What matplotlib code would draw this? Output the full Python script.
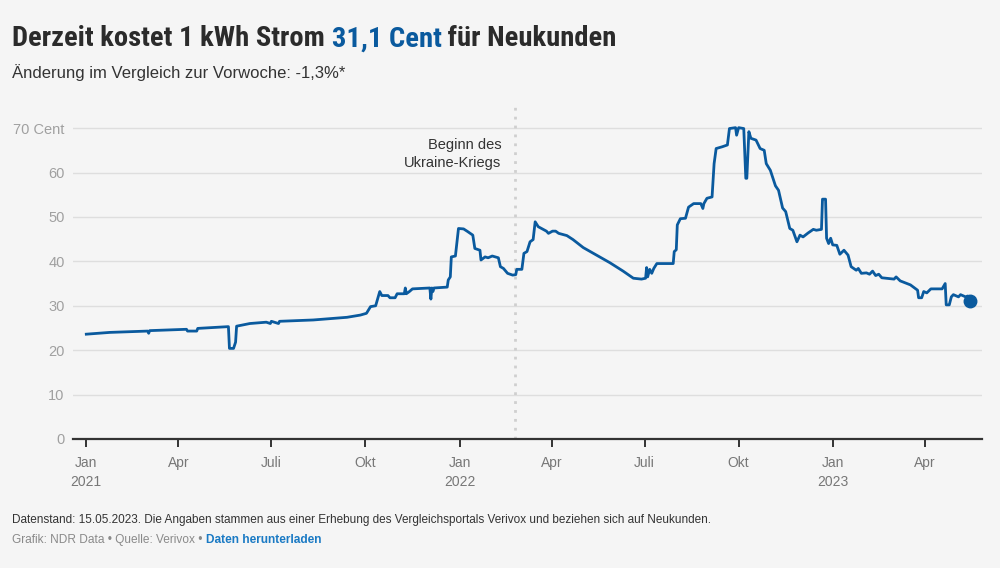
import matplotlib
matplotlib.use("Agg")
import matplotlib.pyplot as plt
from matplotlib import font_manager
import pandas as pd

# Strompreis Neukunden in Cent/kWh
dates = [
    "2021-01-01", "2021-01-24", "2021-03-02", "2021-03-03", "2021-03-04",
    "2021-04-09", "2021-04-10", "2021-04-19", "2021-04-20", "2021-05-20",
    "2021-05-21", "2021-05-25", "2021-05-27", "2021-05-28", "2021-06-10",
    "2021-06-26", "2021-06-30", "2021-07-01", "2021-07-08", "2021-07-09",
    "2021-08-11", "2021-09-13", "2021-09-26", "2021-10-02", "2021-10-06",
    "2021-10-11", "2021-10-15", "2021-10-17", "2021-10-23", "2021-10-25",
    "2021-10-30", "2021-11-01", "2021-11-08", "2021-11-09", "2021-11-10",
    "2021-11-13", "2021-11-16", "2021-12-03", "2021-12-04", "2021-12-05",
    "2021-12-06", "2021-12-07", "2021-12-20", "2021-12-21", "2021-12-23",
    "2021-12-24", "2021-12-28", "2021-12-31", "2022-01-05", "2022-01-09",
    "2022-01-14", "2022-01-16", "2022-01-21", "2022-01-22", "2022-01-26",
    "2022-01-29", "2022-02-02", "2022-02-08", "2022-02-10", "2022-02-13",
    "2022-02-17", "2022-02-22", "2022-02-25", "2022-02-26", "2022-03-03",
    "2022-03-05", "2022-03-08", "2022-03-11", "2022-03-14", "2022-03-16",
    "2022-03-19", "2022-03-23", "2022-03-27", "2022-03-29", "2022-04-02",
    "2022-04-05", "2022-04-08", "2022-04-16", "2022-04-22", "2022-05-02",
    "2022-05-15", "2022-05-28", "2022-06-10", "2022-06-20", "2022-06-28",
    "2022-07-02", "2022-07-03", "2022-07-04", "2022-07-06", "2022-07-08",
    "2022-07-10", "2022-07-13", "2022-07-29", "2022-07-30", "2022-08-01",
    "2022-08-02", "2022-08-05", "2022-08-10", "2022-08-13", "2022-08-18",
    "2022-08-25", "2022-08-27", "2022-08-28", "2022-08-31", "2022-09-05",
    "2022-09-07", "2022-09-09", "2022-09-15", "2022-09-20", "2022-09-22",
    "2022-09-28", "2022-09-29", "2022-10-01", "2022-10-06", "2022-10-08",
    "2022-10-09", "2022-10-11", "2022-10-13", "2022-10-18", "2022-10-22",
    "2022-10-26", "2022-10-28", "2022-11-01", "2022-11-06", "2022-11-09",
    "2022-11-13", "2022-11-16", "2022-11-20", "2022-11-23", "2022-11-27",
    "2022-11-30", "2022-12-03", "2022-12-08", "2022-12-13", "2022-12-16",
    "2022-12-21", "2022-12-22", "2022-12-25", "2022-12-26", "2022-12-28",
    "2022-12-30", "2023-01-01", "2023-01-05", "2023-01-08", "2023-01-12",
    "2023-01-16", "2023-01-19", "2023-01-24", "2023-01-26", "2023-01-29",
    "2023-02-03", "2023-02-06", "2023-02-09", "2023-02-12", "2023-02-15",
    "2023-02-18", "2023-03-02", "2023-03-04", "2023-03-08", "2023-03-18",
    "2023-03-25", "2023-03-26", "2023-03-29", "2023-03-31", "2023-04-03",
    "2023-04-07", "2023-04-18", "2023-04-21", "2023-04-22", "2023-04-25",
    "2023-04-27", "2023-04-29", "2023-05-04", "2023-05-06", "2023-05-11",
    "2023-05-13", "2023-05-15",
]
cent = [
    23.6, 24.0, 24.3, 23.8, 24.4,
    24.7, 24.3, 24.3, 24.9, 25.3,
    20.4, 20.4, 21.8, 25.4, 26.0,
    26.3, 26.0, 26.5, 26.0, 26.5,
    26.8, 27.4, 27.9, 28.3, 29.8,
    30.0, 33.2, 32.3, 32.3, 31.8,
    31.8, 32.7, 32.7, 34.0, 32.7,
    33.2, 33.8, 34.0, 31.5, 34.0,
    33.2, 34.0, 34.2, 35.8, 36.5,
    41.0, 41.2, 47.4, 47.3, 46.7,
    45.9, 42.9, 42.5, 40.3, 41.0,
    40.8, 41.2, 40.8, 38.8, 38.4,
    37.3, 36.9, 37.0, 38.2, 38.2,
    41.8, 42.2, 44.4, 44.9, 48.9,
    47.8, 47.3, 46.8, 46.3, 46.8,
    46.8, 46.3, 45.8, 44.9, 43.1,
    41.4, 39.7, 37.8, 36.2, 36.0,
    36.2, 38.6, 36.5, 38.2, 37.3,
    38.4, 39.5, 39.5, 42.2, 42.6,
    48.2, 49.6, 49.7, 52.2, 53.0,
    53.0, 51.9, 53.0, 54.2, 54.5,
    62.0, 65.4, 65.8, 66.2, 69.9,
    70.1, 68.4, 70.1, 69.9, 58.7,
    58.7, 69.2, 67.7, 67.3, 65.4,
    65.0, 62.0, 60.5, 57.0, 56.0,
    52.0, 51.2, 47.4, 47.0, 44.4,
    45.9, 45.5, 46.4, 47.2, 47.0,
    47.2, 54.0, 54.0, 45.2, 44.0,
    45.2, 43.7, 43.6, 41.6, 42.5,
    41.4, 38.8, 38.0, 38.4, 37.3,
    37.4, 37.1, 37.8, 36.8, 37.1,
    36.3, 36.0, 36.5, 35.6, 34.7,
    33.5, 31.8, 31.8, 33.2, 32.9,
    33.8, 33.8, 35.0, 30.2, 30.2,
    32.0, 32.5, 32.0, 32.5, 32.0,
    32.2, 31.1,
]

y_ticks = [0, 10, 20, 30, 40, 50, 60, 70]
y_labels = ["0", "10", "20", "30", "40", "50", "60", "70 Cent"]
x_ticks = ["2021-01-01", "2021-04-01", "2021-07-01", "2021-10-01",
           "2022-01-01", "2022-04-01", "2022-07-01", "2022-10-01",
           "2023-01-01", "2023-04-01"]
x_labels = ["Jan\n2021", "Apr", "Juli", "Okt", "Jan\n2022", "Apr", "Juli",
            "Okt", "Jan\n2023", "Apr"]
war_start = "2022-02-24"


def pick_font(names):
    for n in names:
        try:
            font_manager.findfont(n, fallback_to_default=False)
            return n
        except ValueError:
            pass
    return "DejaVu Sans"


base_font = pick_font(["Liberation Sans", "Arial", "DejaVu Sans"])
narrow_font = pick_font(["Liberation Sans Narrow", "Roboto Condensed", "Liberation Sans"])
plt.rcParams["font.family"] = base_font

BLUE = "#0a5a9e"
BG = "#f5f5f5"
W, H = 1000, 568

fig = plt.figure(figsize=(10, 5.68), dpi=100, facecolor=BG)
ax = fig.add_axes([73 / W, 1 - 439 / H, (982 - 73) / W, (439 - 105) / H])
ax.set_facecolor(BG)

x = pd.to_datetime(dates)
ax.plot(x, cent, color=BLUE, lw=2.0, solid_joinstyle="round", zorder=3, clip_on=False)
ax.plot(x[-1], cent[-1], "o", color=BLUE, ms=9, zorder=4, clip_on=False)

ax.set_ylim(0, 75.2)
ax.set_xlim(pd.Timestamp("2020-12-19"), pd.Timestamp("2023-05-27"))
ax.set_yticks(y_ticks)
ax.set_yticklabels(y_labels)
ax.set_xticks(pd.to_datetime(x_ticks))
ax.set_xticklabels(x_labels, linespacing=1.45)

for s in ["top", "right", "left"]:
    ax.spines[s].set_visible(False)
ax.spines["bottom"].set_color("#333333")
ax.spines["bottom"].set_linewidth(1.6)
ax.spines["bottom"].set_zorder(5)

ax.grid(axis="y", color="#dedede", lw=1.0)
ax.set_axisbelow(True)
ax.tick_params(axis="y", length=0, pad=6, labelsize=10.5, labelcolor="#a0a0a0")
ax.tick_params(axis="x", length=6, width=1.4, color="#333333", pad=6,
               labelsize=10, labelcolor="#777777")

# Kriegsbeginn
war = pd.Timestamp(war_start)
ax.plot([war, war], [0, 75.2], color="#cfcfcf", lw=2, ls=(0, (1, 2.2)), zorder=1, clip_on=False)
ax.text(war - pd.Timedelta(days=13), 64.2, "Beginn des\nUkraine-Kriegs", ha="right", va="center",
        fontsize=10.5, color="#333333", linespacing=1.3)

# Titel in drei Teilen
renderer = fig.canvas.get_renderer()
title_size = 20.5 if narrow_font != "Liberation Sans" else 15.5
xpos = 12 / W
for part, col in [("Derzeit kostet 1 kWh Strom ", "#2b2b2b"), ("31,1 Cent", BLUE),
                  (" für Neukunden", "#2b2b2b")]:
    t = fig.text(xpos, 1 - 39 / H, part, fontsize=title_size, fontweight="bold",
                 family=narrow_font, color=col, va="center", ha="left")
    bb = t.get_window_extent(renderer)
    xpos += bb.width / W

fig.text(12 / W, 1 - 73 / H, "Änderung im Vergleich zur Vorwoche: -1,3%*",
         fontsize=12, color="#333333", va="center", ha="left")

fig.text(12 / W, 1 - 520 / H,
         "Datenstand: 15.05.2023. Die Angaben stammen aus einer Erhebung des Vergleichsportals "
         "Verivox und beziehen sich auf Neukunden.",
         fontsize=8.5, color="#333333", va="center", ha="left")

t = fig.text(12 / W, 1 - 540 / H, "Grafik: NDR Data • Quelle: Verivox • ",
             fontsize=8.6, color="#8a8a8a", va="center", ha="left")
bb = t.get_window_extent(renderer)
fig.text(12 / W + bb.width / W, 1 - 540 / H, "Daten herunterladen",
         fontsize=8.6, color="#1a7ac4", fontweight="bold", va="center", ha="left")

fig.savefig("out.png", dpi=100, facecolor=BG)
